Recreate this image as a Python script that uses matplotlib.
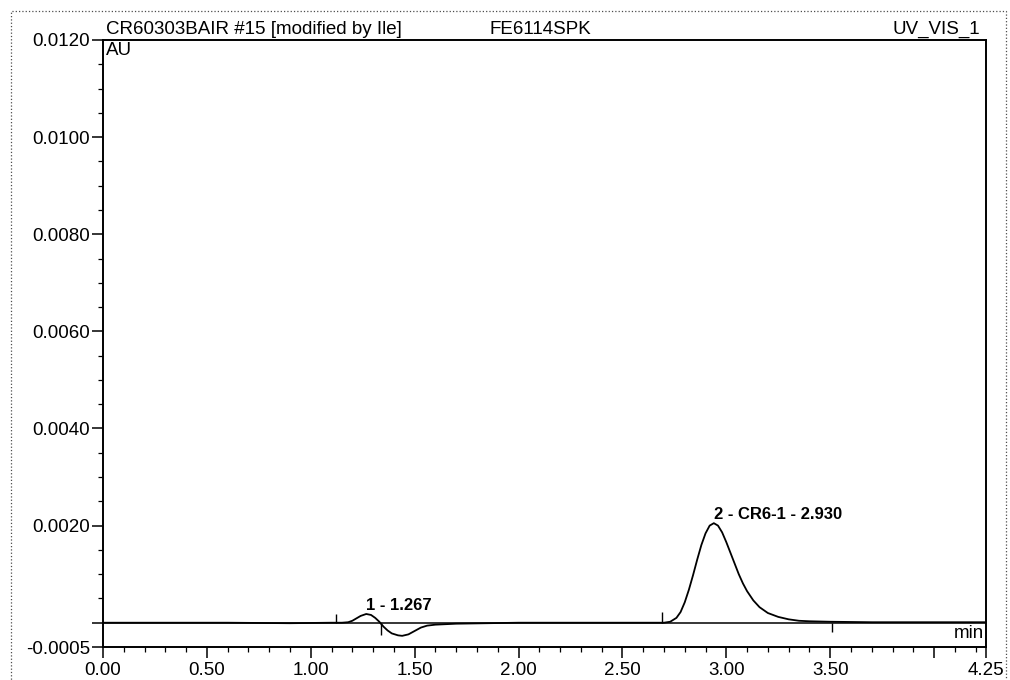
import numpy as np
import matplotlib
matplotlib.use("Agg")
import matplotlib.pyplot as plt
from matplotlib.ticker import MultipleLocator

plt.rcParams['font.family'] = ['Liberation Sans', 'DejaVu Sans']

zeit = [0.00, 0.30, 0.60, 0.90, 1.10, 1.15, 1.18, 1.20, 1.22, 1.24, 1.267, 1.29, 1.31,
        1.33, 1.35, 1.37, 1.39, 1.42, 1.44, 1.47, 1.50, 1.53, 1.56, 1.60, 1.70, 1.85,
        2.00, 2.30, 2.60, 2.70, 2.73, 2.76, 2.78, 2.80, 2.82, 2.84, 2.86, 2.88, 2.90,
        2.92, 2.94, 2.96, 2.98, 3.00, 3.02, 3.04, 3.06, 3.08, 3.10, 3.13, 3.16, 3.20,
        3.25, 3.30, 3.35, 3.40, 3.50, 3.70, 4.00, 4.25]
signal = [0.0, 0.0, 0.0, -0.00001, 0.0, 0.0, 0.00001, 0.00004, 0.00009, 0.00014, 0.00018,
          0.00016, 0.00010, 0.00002, -0.00008, -0.00016, -0.00022, -0.00026, -0.00027,
          -0.00024, -0.00017, -0.00010, -0.00006, -0.00004, -0.00002, -0.00001, 0.0, 0.0,
          0.0, 0.0, 0.00002, 0.00010, 0.00022, 0.00042, 0.00068, 0.00098, 0.00130, 0.00160,
          0.00184, 0.00200, 0.00205, 0.00200, 0.00186, 0.00166, 0.00144, 0.00122, 0.00100,
          0.00081, 0.00065, 0.00046, 0.00032, 0.00020, 0.00012, 0.00007, 0.00004, 0.00003,
          0.00002, 0.00001, 0.00001, 0.00001]

# Peaks
peak_namen = ["1 - 1.267", "2 - CR6-1 - 2.930"]
peak_zeit = [1.267, 2.940]
peak_hoehe = [0.00018, 0.00205]

# Integrationsgrenzen (Zeit, oberes/unteres Ende des Strichs)
grenze_zeit = [1.12, 1.34, 2.69, 3.51]
grenze_von = [0.0, 0.0, 0.0, 0.0]
grenze_bis = [0.00017, -0.00025, 0.00022, -0.00020]

y_ticks = [-0.0005, 0.0, 0.0020, 0.0040, 0.0060, 0.0080, 0.0100, 0.0120]
y_labels = ["-0.0005", "", "0.0020", "0.0040", "0.0060", "0.0080", "0.0100", "0.0120"]
x_ticks = [0.0, 0.5, 1.0, 1.5, 2.0, 2.5, 3.0, 3.5, 4.0, 4.25]
x_labels = ["0.00", "0.50", "1.00", "1.50", "2.00", "2.50", "3.00", "3.50", "", "4.25"]

fig = plt.figure(figsize=(10.1, 6.8), dpi=100)
ax = fig.add_axes([103 / 1010, 1 - 647 / 680, (986 - 103) / 1010, (647 - 40) / 680])

ax.plot(zeit, signal, color='black', lw=1.3)
ax.axhline(0, color='black', lw=1.1)
ax.vlines(grenze_zeit, grenze_von, grenze_bis, color='black', lw=1.0)

for name, t, h in zip(peak_namen, peak_zeit, peak_hoehe):
    ax.annotate(name, xy=(t, h), xytext=(0, 3), textcoords='offset points',
                ha='left', va='baseline', fontsize=12, fontweight='bold')

ax.set_xlim(0, 4.25)
ax.set_ylim(-0.0005, 0.0120)
ax.set_xticks(x_ticks)
ax.set_xticklabels(x_labels)
ax.set_yticks(y_ticks)
ax.set_yticklabels(y_labels)
ax.xaxis.set_minor_locator(MultipleLocator(0.1))
ax.yaxis.set_minor_locator(MultipleLocator(0.0005))
ax.tick_params(which='major', length=8, width=1.1, direction='out', labelsize=13.5)
ax.tick_params(which='minor', length=3.5, width=0.9, direction='out')
ax.tick_params(axis='y', pad=1.5)
ax.tick_params(axis='x', pad=3)
for s in ax.spines.values():
    s.set_linewidth(1.4)

ax.text(0.003, 1.003, "CR60303BAIR #15 [modified by Ile]", transform=ax.transAxes,
        ha='left', va='bottom', fontsize=13.5)
ax.text(0.438, 1.003, "FE6114SPK", transform=ax.transAxes, ha='left', va='bottom', fontsize=13.5)
ax.text(0.993, 1.003, "UV_VIS_1", transform=ax.transAxes, ha='right', va='bottom', fontsize=13.5)
ax.text(0.003, 0.996, "AU", transform=ax.transAxes, ha='left', va='top', fontsize=13.5)
ax.text(0.998, 0.008, "min", transform=ax.transAxes, ha='right', va='bottom', fontsize=13.5)

# gepunkteter Rahmen um das Bild
rahmen = plt.Rectangle((11 / 1010, -0.02), (1006 - 11) / 1010, 1.02 - 11 / 680,
                       transform=fig.transFigure, fill=False, ls=':', lw=0.9, color='0.3')
fig.add_artist(rahmen)

fig.savefig("out.png", dpi=100)
